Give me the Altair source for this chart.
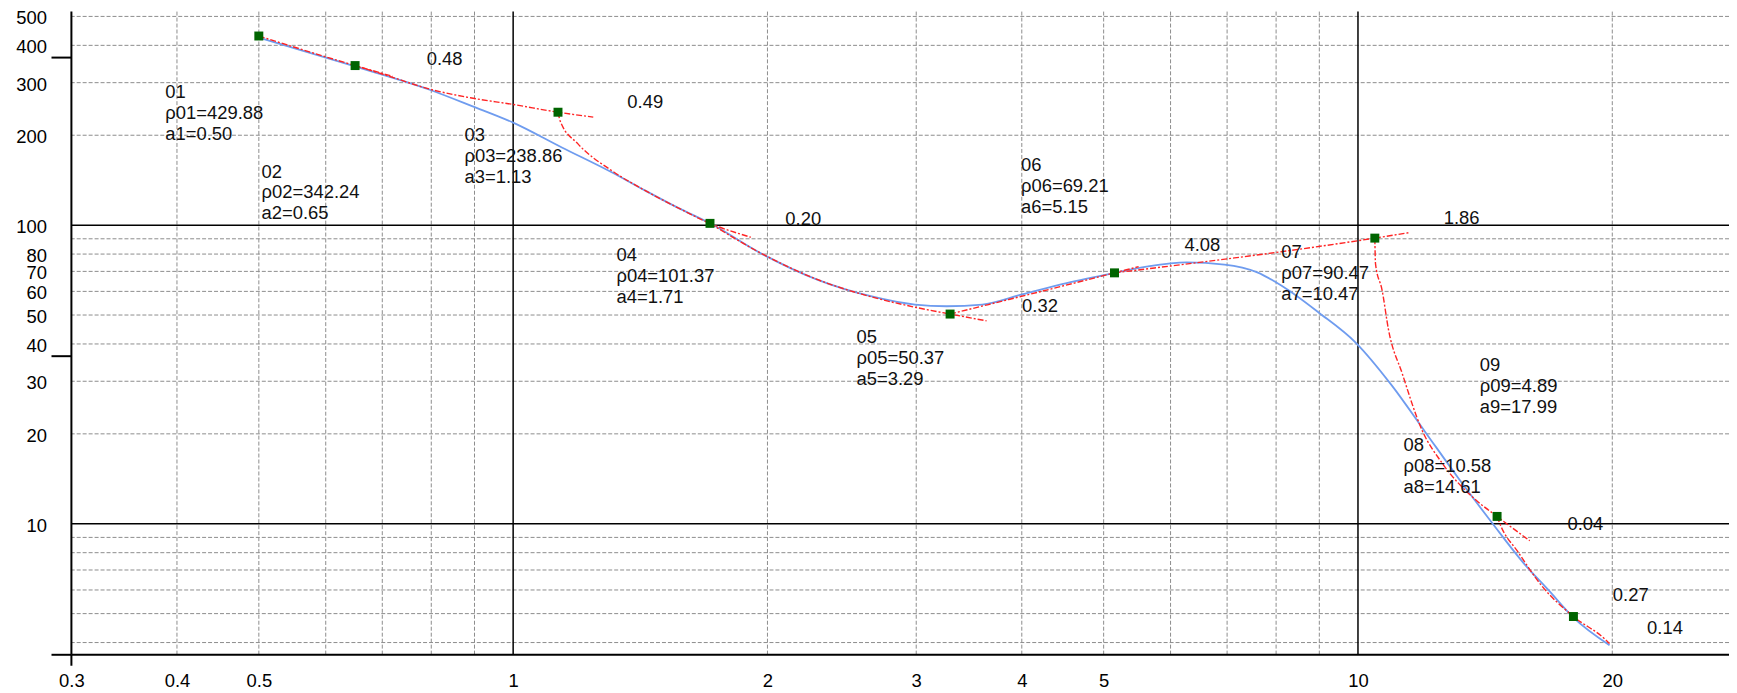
import altair as alt
import pandas as pd

# ---------------- data ----------------
title_text = "大地电阻率ρ - a曲线 二级解析图"

pt_ids = ["01", "02", "03", "04", "05", "06", "07", "08", "09"]
pt_a = [0.50, 0.65, 1.13, 1.71, 3.29, 5.15, 10.47, 14.61, 17.99]
pt_rho = [429.88, 342.24, 238.86, 101.37, 50.37, 69.21, 90.47, 10.58, 4.89]
# vertical anchor (rho units) of each point's annotation block
label_rho = [298.6, 161.9, 214.4, 85.2, 45.3, 169.7, 86.8, 19.6, 36.5]

ratio_text = ["0.48", "0.49", "0.20", "0.32", "4.08", "1.86", "0.04", "0.27", "0.14"]
ratio_a = [0.790, 1.365, 2.100, 4.003, 6.232, 12.63, 17.70, 20.03, 21.99]
ratio_rho = [387.0, 276.6, 111.9, 57.4, 92.2, 112.8, 10.66, 6.19, 4.80]

blue_a = [0.50, 0.65, 0.795, 0.894, 1.00, 1.142, 1.308, 1.432, 1.57, 1.71, 1.98,
          2.29, 2.65, 2.99, 3.26, 3.59, 4.00, 4.52, 5.15, 5.62, 6.27, 6.95, 7.6,
          8.14, 8.99, 9.93, 10.97, 12.01, 13.15, 14.40, 15.76, 16.80, 17.99, 19.85]
blue_rho = [424.6, 340.0, 284.6, 250.4, 220.4, 182.0, 150.3, 130.7, 114.0, 101.4, 79.5,
            65.7, 57.8, 54.2, 53.5, 54.2, 58.6, 64.0, 69.2, 72.6, 75.0, 73.8, 69.5,
            62.4, 50.9, 40.5, 29.0, 20.3, 14.2, 10.1, 7.3, 6.0, 4.85, 3.92]

red_a_1 = [0.50, 0.65, 0.72]
red_rho_1 = [429.88, 342.24, 315.0]
red_a_2 = [0.65, 0.72, 0.795, 0.89, 1.00, 1.13, 1.244]
red_rho_2 = [342.24, 312.6, 285.8, 267.0, 253.6, 238.86, 230.0]
red_a_3 = [1.13, 1.137, 1.194, 1.308, 1.432, 1.57, 1.71, 1.911]
red_rho_3 = [238.86, 222.9, 186.8, 152.3, 130.7, 114.0, 101.37, 91.1]
red_a_4 = [1.71, 1.98, 2.29, 2.65, 2.99, 3.29, 3.634]
red_rho_4 = [101.37, 79.6, 65.8, 57.6, 53.1, 50.37, 47.8]
red_a_5 = [3.29, 5.15, 5.5]
red_rho_5 = [50.37, 69.21, 72.6]
red_a_6 = [5.15, 10.47, 11.48]
red_rho_6 = [69.21, 90.47, 94.3]
red_a_7 = [10.47, 10.49, 10.68, 10.87, 11.28, 11.90, 12.57, 13.76, 14.61, 15.97]
red_rho_7 = [90.47, 74.2, 60.5, 44.5, 31.9, 20.65, 16.0, 12.07, 10.58, 8.77]
red_a_8 = [14.61, 14.73, 15.48, 16.49, 17.99, 19.58, 19.85]
red_rho_8 = [10.58, 9.96, 8.02, 6.21, 4.89, 4.12, 3.97]

x_tick_labels = [0.3, 0.4, 0.5, 1, 2, 3, 4, 5, 10, 20]
y_tick_labels = [10, 20, 30, 40, 50, 60, 70, 80, 100, 200, 300, 400, 500]
grid_x_minor = [0.4, 0.5, 0.6, 0.7, 0.8, 0.9, 2, 3, 4, 5, 6, 7, 8, 9, 20]
grid_y_minor = [4, 5, 6, 7, 8, 9, 20, 30, 40, 50, 60, 70, 80, 90, 200, 300, 400, 500]
grid_x_major = [1, 10]
grid_y_major = [10, 100]
x_min, x_max = 0.3, 27.49
y_min, y_max = 3.64, 519.0
y_major_ticks = [3.64, 36.4, 364.0]

# ---------------- chart ----------------
W, H = 1665.3, 646.2
FONT = "Liberation Sans"
FS = 18.5

xscale = alt.Scale(type="log", domain=[x_min, x_max], nice=False)
yscale = alt.Scale(type="log", domain=[y_min, y_max], nice=False)

xaxis = alt.Axis(values=x_tick_labels, format="~g", ticks=False, tickSize=0, domain=False,
                 grid=False, labelPadding=17, labelFontSize=FS, labelFont=FONT,
                 labelColor="#000000", labelFlush=False, labelOverlap=False, title=None)
yaxis = alt.Axis(values=y_tick_labels, format="~g", ticks=False, tickSize=0, domain=False,
                 grid=False, labelPadding=25, labelOffset=1.5, labelFontSize=FS,
                 labelFont=FONT, labelColor="#000000", labelFlush=False,
                 labelOverlap=False, title=None)


def X(field):
    return alt.X(field, scale=xscale, axis=xaxis)


def Y(field):
    return alt.Y(field, scale=yscale, axis=yaxis)


pts = pd.DataFrame({"id": pt_ids, "a": pt_a, "rho": pt_rho, "ly": label_rho})
pts["txt"] = [f"{i}\nρ{i}={r:.2f}\na{k+1}={a:.2f}" for k, (i, r, a) in
              enumerate(zip(pt_ids, pt_rho, pt_a))]

ratios = pd.DataFrame({"t": ratio_text, "a": ratio_a, "rho": ratio_rho})
blue = pd.DataFrame({"a": blue_a, "rho": blue_rho, "i": range(len(blue_a))})

red_rows = []
for s, (aa, rr) in enumerate([(red_a_1, red_rho_1), (red_a_2, red_rho_2), (red_a_3, red_rho_3),
                              (red_a_4, red_rho_4), (red_a_5, red_rho_5), (red_a_6, red_rho_6),
                              (red_a_7, red_rho_7), (red_a_8, red_rho_8)]):
    for k, (a, r) in enumerate(zip(aa, rr)):
        red_rows.append({"seg": s, "i": k, "a": a, "rho": r})
red = pd.DataFrame(red_rows)

GRID = "#8c8c8c"

hgrid = alt.Chart(pd.DataFrame({"v": grid_y_minor})).mark_rule(
    color=GRID, strokeDash=[4, 2], strokeWidth=1
).encode(y=Y("v:Q"))

vgrid = alt.Chart(pd.DataFrame({"v": grid_x_minor})).mark_rule(
    color=GRID, strokeDash=[4, 2], strokeWidth=1
).encode(x=X("v:Q"))

hmajor = alt.Chart(pd.DataFrame({"v": grid_y_major})).mark_rule(
    color="#000000", strokeWidth=1.5
).encode(y=Y("v:Q"))

vmajor = alt.Chart(pd.DataFrame({"v": grid_x_major})).mark_rule(
    color="#000000", strokeWidth=1.5
).encode(x=X("v:Q"))

yaxis_line = alt.Chart(pd.DataFrame({"v": [x_min]})).mark_rule(
    color="#000000", strokeWidth=2
).encode(x=X("v:Q"))

xaxis_line = alt.Chart(pd.DataFrame({"v": [y_min]})).mark_rule(
    color="#000000", strokeWidth=2
).encode(y=Y("v:Q"))

left_ticks = alt.Chart(pd.DataFrame({"v": y_major_ticks})).mark_rule(
    color="#000000", strokeWidth=2
).encode(y=Y("v:Q"), x=alt.value(-20), x2=alt.value(0))

bottom_tick = alt.Chart(pd.DataFrame({"v": [x_min]})).mark_rule(
    color="#000000", strokeWidth=2
).encode(x=X("v:Q"), y=alt.value(H), y2=alt.value(H + 11))

blue_line = alt.Chart(blue).mark_line(
    color="#6f9cef", strokeWidth=1.8, interpolate="monotone"
).encode(x=X("a:Q"), y=Y("rho:Q"), order="i:Q")

red_lines = alt.Chart(red).mark_line(
    color="#ff2424", strokeWidth=1.4, strokeDash=[6, 2, 2, 2], interpolate="monotone"
).encode(x=X("a:Q"), y=Y("rho:Q"), detail="seg:N", order="i:Q")

points = alt.Chart(pts).mark_square(size=81, color="#006400", opacity=1).encode(
    x=X("a:Q"), y=Y("rho:Q")
)

pt_labels = alt.Chart(pts).mark_text(
    align="left", baseline="top", dx=-94, fontSize=FS, font=FONT, color="#111111",
    lineBreak="\n", lineHeight=21
).encode(x=X("a:Q"), y=Y("ly:Q"), text="txt:N")

ratio_labels = alt.Chart(ratios).mark_text(
    align="left", baseline="top", fontSize=FS, font=FONT, color="#111111"
).encode(x=X("a:Q"), y=Y("rho:Q"), text="t:N")

chart = alt.layer(
    hgrid, vgrid, hmajor, vmajor, yaxis_line, xaxis_line, left_ticks, bottom_tick,
    blue_line, red_lines, points, pt_labels, ratio_labels
).properties(
    width=W,
    height=H,
    padding={"left": 63.7, "top": 2, "right": 0, "bottom": 42},
    autosize=alt.AutoSizeParams(type="none"),
    title=alt.TitleParams(
        text=title_text, fontSize=26, font="Noto Sans CJK SC", fontWeight="bold",
        anchor="middle", baseline="bottom", offset=-6, dx=-31, color="#000000"
    ),
    background="#ffffff",
).configure_view(strokeWidth=0)

chart.save("out.html", embed_options={"renderer": "svg", "actions": False})
